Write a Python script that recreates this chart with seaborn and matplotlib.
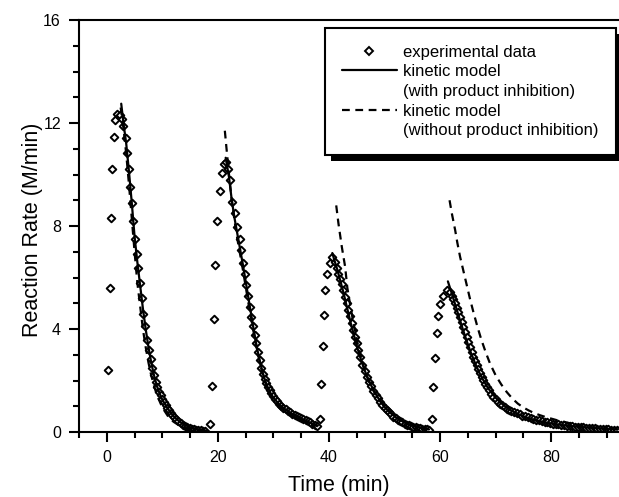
import numpy as np
import pandas as pd
import matplotlib
matplotlib.use("Agg")
import matplotlib.pyplot as plt
import seaborn as sns
from matplotlib.lines import Line2D
from matplotlib.patches import Rectangle
from matplotlib.ticker import MultipleLocator
from matplotlib.transforms import IdentityTransform

# ---------------- data ----------------
exp_time_1 = [0.2, 0.5, 0.75, 1.0, 1.35, 1.55, 1.9, 2.3, 2.7, 3.0, 3.4, 3.7, 3.95, 4.2, 4.5, 4.8,
              5.0, 5.4, 5.7, 6.0, 6.3, 6.6, 6.9, 7.3, 7.6, 7.9, 8.2, 8.5, 8.8, 9.1, 9.4, 9.7,
              10.0, 10.3, 10.6, 10.9, 11.2, 11.5, 11.8, 12.1, 12.5, 12.9, 13.3, 13.7, 14.1,
              14.5, 14.9, 15.3, 15.7, 16.1, 16.5, 16.9, 17.3, 17.7]
exp_rate_1 = [2.4, 5.6, 8.3, 10.2, 11.45, 12.1, 12.35, 12.3, 12.15, 11.9, 11.4, 10.85, 10.2, 9.5,
              8.9, 8.2, 7.5, 6.9, 6.35, 5.8, 5.2, 4.6, 4.1, 3.57, 3.2, 2.85, 2.5, 2.2, 1.95, 1.75,
              1.57, 1.42, 1.3, 1.18, 1.05, 0.95, 0.85, 0.75, 0.67, 0.6, 0.5, 0.42, 0.35, 0.29,
              0.24, 0.2, 0.16, 0.13, 0.11, 0.09, 0.07, 0.06, 0.05, 0.05]

exp_time_2 = [18.6, 18.95, 19.25, 19.5, 19.8, 20.35, 20.7, 21.1, 21.5, 21.9, 22.2, 22.6, 23.0,
              23.5, 23.9, 24.2, 24.5, 24.8, 25.1, 25.4, 25.7, 26.0, 26.3, 26.6, 26.9, 27.2,
              27.5, 27.8, 28.1, 28.4, 28.7, 29.0, 29.3, 29.6, 29.9, 30.2, 30.6, 31.0, 31.4,
              31.8, 32.2, 32.6, 33.0, 33.4, 33.8, 34.2, 34.6, 35.0, 35.4, 35.8, 36.2, 36.6,
              37.0, 37.4, 37.8]
exp_rate_2 = [0.3, 1.8, 4.4, 6.5, 8.2, 9.35, 10.05, 10.4, 10.5, 10.2, 9.8, 8.95, 8.5, 7.95, 7.5,
              7.05, 6.55, 6.15, 5.7, 5.3, 4.87, 4.48, 4.1, 3.75, 3.45, 3.1, 2.8, 2.5, 2.25, 2.05,
              1.9, 1.75, 1.62, 1.5, 1.4, 1.3, 1.2, 1.1, 1.02, 0.95, 0.88, 0.82, 0.76, 0.7, 0.65,
              0.62, 0.58, 0.54, 0.5, 0.47, 0.43, 0.38, 0.33, 0.28, 0.24]

exp_time_3 = [38.4, 38.55, 38.85, 39.05, 39.3, 39.6, 40.1, 40.6, 41.0, 41.4, 41.7, 42.0, 42.3,
              42.6, 42.9, 43.2, 43.5, 43.8, 44.1, 44.4, 44.7, 45.0, 45.3, 45.6, 46.0, 46.4,
              46.8, 47.2, 47.6, 48.0, 48.4, 48.8, 49.2, 49.6, 50.0, 50.4, 50.8, 51.2, 51.6,
              52.0, 52.4, 52.8, 53.2, 53.6, 54.0, 54.4, 54.8, 55.2, 55.6, 56.0, 56.4, 56.8,
              57.2, 57.6, 58.0]
exp_rate_3 = [0.5, 1.85, 3.35, 4.55, 5.5, 6.15, 6.55, 6.8, 6.6, 6.35, 6.15, 5.95, 5.75, 5.5,
              5.25, 5.0, 4.75, 4.5, 4.22, 3.96, 3.7, 3.45, 3.18, 2.93, 2.62, 2.38, 2.15, 1.95,
              1.77, 1.6, 1.45, 1.31, 1.18, 1.06, 0.95, 0.86, 0.77, 0.68, 0.6, 0.54, 0.48, 0.42,
              0.37, 0.33, 0.29, 0.26, 0.23, 0.2, 0.18, 0.16, 0.14, 0.12, 0.11, 0.1, 0.09]

exp_time_4 = [58.5, 58.8, 59.1, 59.4, 59.7, 60.0, 60.6, 61.3, 61.7, 62.1, 62.4, 62.7, 63.0,
              63.3, 63.6, 63.9, 64.2, 64.5, 64.8, 65.1, 65.4, 65.7, 66.0, 66.3, 66.6, 66.9,
              67.2, 67.5, 67.8, 68.1, 68.4, 68.8, 69.2, 69.6, 70.0, 70.4, 70.8, 71.2, 71.6,
              72.0, 72.4, 72.8, 73.3, 73.8, 74.3, 74.8, 75.3, 75.8, 76.3, 76.8, 77.3, 77.8,
              78.3, 78.8, 79.3, 79.8, 80.3, 80.8, 81.3, 81.8, 82.3, 82.8, 83.3, 83.8, 84.3,
              84.8, 85.3, 85.8, 86.3, 86.8, 87.3, 87.8, 88.3, 88.8, 89.3, 89.8, 90.3, 90.8,
              91.3, 91.8]
exp_rate_4 = [0.5, 1.75, 2.86, 3.83, 4.5, 4.96, 5.28, 5.5, 5.45, 5.3, 5.15, 5.0, 4.82, 4.65,
              4.48, 4.28, 4.08, 3.9, 3.7, 3.5, 3.3, 3.1, 2.92, 2.75, 2.6, 2.43, 2.28, 2.15, 2.02,
              1.88, 1.76, 1.62, 1.48, 1.37, 1.27, 1.18, 1.1, 1.03, 0.97, 0.91, 0.86, 0.82, 0.77,
              0.72, 0.68, 0.64, 0.61, 0.58, 0.55, 0.51, 0.48, 0.45, 0.42, 0.39, 0.37, 0.35, 0.33,
              0.31, 0.3, 0.28, 0.27, 0.25, 0.24, 0.22, 0.21, 0.2, 0.19, 0.18, 0.17, 0.16, 0.15,
              0.14, 0.13, 0.12, 0.11, 0.1, 0.1, 0.09, 0.09, 0.08]

# kinetic model with product inhibition (solid)
inh_time_1 = [2.6, 3.0, 3.5, 4.0, 4.5, 5.0, 5.5, 6.0, 6.5, 7.0, 7.5, 8.0, 8.5, 9.0, 9.5, 10.0,
              11.0, 12.0, 13.0, 14.0, 15.0, 16.0, 17.0, 18.0]
inh_rate_1 = [12.75, 12.0, 11.2, 10.1, 8.9, 7.6, 6.6, 5.7, 4.8, 4.0, 3.3, 2.7, 2.2, 1.8, 1.5,
              1.25, 0.9, 0.62, 0.42, 0.28, 0.18, 0.12, 0.08, 0.05]
inh_time_2 = [21.4, 22.0, 22.5, 23.0, 23.5, 24.0, 24.5, 25.0, 25.5, 26.0, 26.5, 27.0, 27.5,
              28.0, 28.5, 29.0, 29.5, 30.0, 31.0, 32.0, 33.0, 34.0, 35.0, 36.0, 37.0, 38.0]
inh_rate_2 = [10.65, 9.9, 9.0, 8.3, 7.7, 7.1, 6.5, 5.85, 5.2, 4.55, 3.9, 3.3, 2.8, 2.35, 2.0,
              1.72, 1.5, 1.33, 1.08, 0.9, 0.75, 0.63, 0.52, 0.42, 0.33, 0.25]
inh_time_3 = [40.6, 41.0, 41.5, 42.0, 42.5, 43.0, 43.5, 44.0, 44.5, 45.0, 45.5, 46.0, 46.5,
              47.0, 47.5, 48.0, 49.0, 50.0, 51.0, 52.0, 53.0, 54.0, 55.0, 56.0, 57.0, 58.0]
inh_rate_3 = [6.95, 6.65, 6.3, 5.9, 5.5, 5.05, 4.6, 4.15, 3.75, 3.35, 2.98, 2.65, 2.35, 2.08,
              1.85, 1.63, 1.27, 0.98, 0.76, 0.58, 0.44, 0.33, 0.25, 0.19, 0.14, 0.1]
inh_time_4 = [61.4, 62.0, 62.5, 63.0, 63.5, 64.0, 64.5, 65.0, 65.5, 66.0, 66.5, 67.0, 67.5,
              68.0, 68.5, 69.0, 70.0, 71.0, 72.0, 73.0, 74.0, 75.0, 76.0, 77.0, 78.0, 79.0,
              80.0, 82.0, 84.0, 86.0, 88.0, 90.0, 92.0]
inh_rate_4 = [5.85, 5.45, 5.1, 4.75, 4.4, 4.05, 3.72, 3.4, 3.1, 2.83, 2.57, 2.33, 2.12, 1.93,
              1.75, 1.6, 1.33, 1.12, 0.95, 0.81, 0.7, 0.61, 0.53, 0.47, 0.42, 0.37, 0.33, 0.27,
              0.22, 0.18, 0.15, 0.12, 0.1]

# kinetic model without product inhibition (dashed)
noinh_time_1 = [2.5, 3.0, 3.5, 4.0, 4.5, 5.0, 5.5, 6.0, 6.5, 7.0, 7.5, 8.0, 8.5, 9.0, 10.0,
                11.0, 12.0, 13.0, 14.0, 15.0, 16.0, 17.0, 18.0]
noinh_rate_1 = [12.6, 11.8, 10.8, 9.6, 8.3, 7.0, 5.8, 4.9, 4.0, 3.3, 2.7, 2.2, 1.8, 1.45, 0.95,
                0.62, 0.4, 0.26, 0.17, 0.11, 0.07, 0.05, 0.03]
noinh_time_2 = [21.25, 21.6, 22.0, 22.5, 23.0, 23.5, 24.0, 24.5, 25.0, 25.5, 26.0, 26.5, 27.0,
                27.5, 28.0, 28.5, 29.0, 29.5, 30.0, 31.0, 32.0, 33.0, 34.0, 35.0, 36.0, 37.0,
                38.0]
noinh_rate_2 = [11.7, 10.9, 10.0, 9.0, 8.2, 7.5, 6.9, 6.3, 5.65, 5.0, 4.4, 3.8, 3.25, 2.75, 2.3,
                1.95, 1.65, 1.42, 1.25, 1.0, 0.82, 0.68, 0.56, 0.46, 0.37, 0.29, 0.22]
noinh_time_3 = [41.3, 41.7, 42.3, 42.9, 43.3, 43.8, 44.3, 44.8, 45.3, 45.8, 46.3, 46.8, 47.3,
                48.0, 49.0, 50.0, 51.0, 52.0, 53.0, 54.0, 55.0, 56.0, 57.0, 58.0]
noinh_rate_3 = [8.8, 8.1, 7.2, 6.42, 5.6, 4.95, 4.35, 3.8, 3.3, 2.88, 2.5, 2.18, 1.9, 1.6, 1.25,
                0.98, 0.76, 0.59, 0.45, 0.34, 0.26, 0.2, 0.15, 0.11]
noinh_time_4 = [61.7, 62.1, 62.7, 63.1, 63.6, 64.2, 64.8, 65.4, 66.0, 66.7, 67.4, 68.2, 69.0,
                70.0, 71.0, 72.0, 73.0, 74.0, 75.0, 76.0, 77.0, 78.0, 79.0, 80.0, 81.0, 82.0,
                83.0, 84.0, 85.0, 86.0, 87.0, 88.0, 90.0, 92.0]
noinh_rate_4 = [9.0, 8.5, 7.85, 7.35, 6.8, 6.25, 5.7, 5.15, 4.65, 4.1, 3.6, 3.1, 2.65, 2.2, 1.85,
                1.55, 1.3, 1.1, 0.95, 0.83, 0.73, 0.65, 0.58, 0.52, 0.46, 0.41, 0.36, 0.31,
                0.26, 0.22, 0.19, 0.16, 0.12, 0.1]

x_ticks = [0, 20, 40, 60, 80]
y_ticks = [0, 4, 8, 12, 16]
x_label = "Time (min)"
y_label = "Reaction Rate (M/min)"
legend_labels = ["experimental data", "kinetic model", "(with product inhibition)",
                 "kinetic model", "(without product inhibition)"]

# ---------------- build tables ----------------
exp_df = pd.DataFrame({
    "time": exp_time_1 + exp_time_2 + exp_time_3 + exp_time_4,
    "rate": exp_rate_1 + exp_rate_2 + exp_rate_3 + exp_rate_4,
})
inh_curves = [(inh_time_1, inh_rate_1), (inh_time_2, inh_rate_2),
              (inh_time_3, inh_rate_3), (inh_time_4, inh_rate_4)]
noinh_curves = [(noinh_time_1, noinh_rate_1), (noinh_time_2, noinh_rate_2),
                (noinh_time_3, noinh_rate_3), (noinh_time_4, noinh_rate_4)]

# ---------------- style ----------------
sns.set_style("ticks")
plt.rcParams["font.family"] = ["Liberation Sans", "DejaVu Sans"]
plt.rcParams["axes.linewidth"] = 1.5
for k in ["text.color", "axes.labelcolor", "xtick.color", "ytick.color", "axes.edgecolor"]:
    plt.rcParams[k] = "black"

W, H = 619, 497
fig = plt.figure(figsize=(W / 100, H / 100), dpi=100)
ax = fig.add_axes([79 / W, 1 - 432 / H, 540 / W, 412 / H])

dash = (0, (3.5, 2.5))

sns.scatterplot(data=exp_df, x="time", y="rate", ax=ax, marker="D", s=15,
                facecolor="white", edgecolor="black", linewidth=1.4, legend=False, zorder=2)
ax.collections[-1].set_facecolor("white")
ax.collections[-1].set_edgecolor("black")

for t, r in inh_curves:
    sns.lineplot(x=t, y=r, ax=ax, color="black", linewidth=1.6, sort=False,
                 estimator=None, legend=False, zorder=3)
for t, r in noinh_curves:
    sns.lineplot(x=t, y=r, ax=ax, color="black", linewidth=1.6, sort=False,
                 estimator=None, legend=False, linestyle=dash, zorder=3)

ax.set_xlim(-5, 92.2)
ax.set_ylim(0, 16)
ax.set_xticks(x_ticks)
ax.set_yticks(y_ticks)
ax.xaxis.set_minor_locator(MultipleLocator(5))
ax.yaxis.set_minor_locator(MultipleLocator(1))
ax.tick_params(which="major", direction="out", length=7.5, width=1.5, labelsize=11.5,
               pad=5.5, colors="black", labelcolor="black")
ax.tick_params(which="minor", direction="out", length=4, width=1.5, colors="black")
ax.tick_params(top=False, right=False, which="both")
ax.spines["right"].set_visible(False)
for s in ["left", "bottom", "top"]:
    ax.spines[s].set_color("black")
    ax.spines[s].set_linewidth(1.5)

ax.set_xlabel(x_label, fontsize=15.5, color="black")
ax.set_ylabel(y_label, fontsize=15.5, color="black")
ax.xaxis.set_label_coords(0.4806, -0.104)
ax.yaxis.set_label_coords(-0.066, 0.49)

# ---------------- legend ----------------
handles = [
    Line2D([], [], marker="D", linestyle="none", markerfacecolor="white",
           markeredgecolor="black", markersize=4.0, markeredgewidth=1.4),
    Line2D([], [], color="black", linewidth=1.6),
    Line2D([], [], color="none"),
    Line2D([], [], color="black", linewidth=1.6, linestyle=dash),
    Line2D([], [], color="none"),
]
leg = ax.legend(handles, legend_labels, loc="upper left",
                bbox_to_anchor=(325 / W, 1 - 28 / H), bbox_transform=fig.transFigure,
                frameon=True, fancybox=False, framealpha=1, edgecolor="black",
                fontsize=12, borderpad=1.0, labelspacing=0.28, handlelength=3.3,
                handletextpad=0.4, borderaxespad=0)
leg.get_frame().set_linewidth(1.5)
for txt in leg.get_texts():
    txt.set_color("black")
leg.set_zorder(10)

fig.canvas.draw()
bb = leg.get_window_extent()
shadow = Rectangle((bb.x0 + 6, bb.y0 - 6), bb.width, bb.height, transform=IdentityTransform(),
                   facecolor="black", edgecolor="none", zorder=9, clip_on=False)
ax.add_artist(shadow)

fig.savefig("out.png", dpi=100)
